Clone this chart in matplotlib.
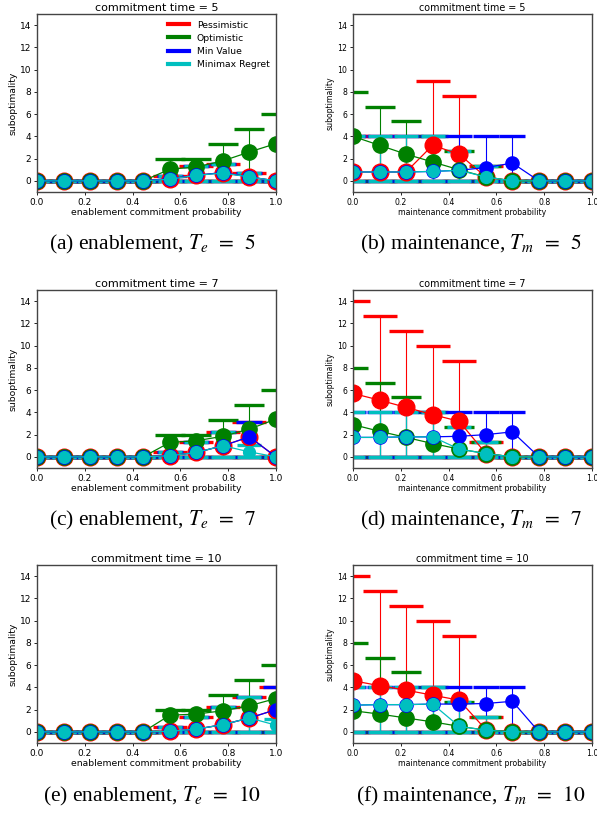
import numpy as np
import matplotlib
matplotlib.use("Agg")
import matplotlib.pyplot as plt
from matplotlib.lines import Line2D

plt.rcParams['mathtext.fontset'] = 'stix'

# commitment probabilities (x axis)
probs = [0.0, 0.111, 0.222, 0.333, 0.444, 0.556, 0.667, 0.778, 0.889, 1.0]

series_names = ["Pessimistic", "Optimistic", "Min Value", "Minimax Regret"]
series_colors = ["r", "g", "b", "c"]

# (a) enablement, T_e = 5  -- means and upper error values (lower error goes to 0)
ena5_pess = [0, 0, 0, 0, 0, 0.2, 0.5, 0.75, 0.35, 0]
ena5_pess_hi = [0, 0, 0, 0, 0, 0.45, 1.35, 1.55, 0.75, 0]
ena5_opt = [0, 0, 0, 0, 0, 1.05, 1.25, 1.8, 2.6, 3.35]
ena5_opt_hi = [0, 0, 0, 0, 0, 2.0, 2.0, 3.3, 4.65, 6.0]
ena5_minv = [0, 0, 0, 0, 0, 0.2, 0.5, 0.75, 0.35, 0]
ena5_minv_hi = [0, 0, 0, 0, 0, 0.45, 1.35, 1.55, 0.75, 0]
ena5_mmr = [0, 0, 0, 0, 0, 0.15, 0.5, 0.7, 0.35, 0]
ena5_mmr_hi = [0, 0, 0, 0, 0, 0.45, 1.35, 1.55, 0.75, 0]

# (b) maintenance, T_m = 5
mnt5_pess = [0.8, 0.8, 0.8, 3.2, 2.4, 0.35, 0, 0, 0, 0]
mnt5_pess_hi = [4.0, 4.0, 4.0, 9.0, 7.65, 1.35, 0, 0, 0, 0]
mnt5_opt = [4.0, 3.2, 2.4, 1.7, 1.0, 0.35, 0, 0, 0, 0]
mnt5_opt_hi = [8.0, 6.65, 5.35, 4.0, 2.65, 1.35, 0, 0, 0, 0]
mnt5_minv = [0.8, 0.8, 0.8, 0.85, 0.95, 1.2, 1.6, 0, 0, 0]
mnt5_minv_hi = [4.0, 4.0, 4.0, 4.0, 4.0, 4.0, 4.0, 0, 0, 0]
mnt5_mmr = [0.8, 0.8, 0.8, 0.85, 0.95, 0.35, 0, 0, 0, 0]
mnt5_mmr_hi = [4.0, 4.0, 4.0, 4.0, 2.65, 1.35, 0, 0, 0, 0]

# (c) enablement, T_e = 7
ena7_pess = [0, 0, 0, 0, 0, 0.1, 0.4, 1.0, 1.8, 0]
ena7_pess_hi = [0, 0, 0, 0, 0, 0.45, 1.35, 2.2, 3.1, 0]
ena7_opt = [0, 0, 0, 0, 0, 1.3, 1.45, 1.85, 2.5, 3.4]
ena7_opt_hi = [0, 0, 0, 0, 0, 2.0, 2.0, 3.3, 4.65, 6.0]
ena7_minv = [0, 0, 0, 0, 0, 0.1, 0.4, 1.0, 1.8, 0]
ena7_minv_hi = [0, 0, 0, 0, 0, 0.45, 1.35, 2.2, 3.1, 0]
ena7_mmr = [0, 0, 0, 0, 0, 0.1, 0.4, 1.0, 0.45, 0]
ena7_mmr_hi = [0, 0, 0, 0, 0, 0.45, 1.35, 2.2, 1.1, 0]

# (d) maintenance, T_m = 7
mnt7_pess = [5.7, 5.1, 4.45, 3.8, 3.2, 0.3, 0, 0, 0, 0]
mnt7_pess_hi = [14.0, 12.65, 11.35, 10.0, 8.65, 1.35, 0, 0, 0, 0]
mnt7_opt = [2.9, 2.3, 1.75, 1.2, 0.7, 0.3, 0, 0, 0, 0]
mnt7_opt_hi = [8.0, 6.65, 5.35, 4.0, 2.65, 1.35, 0, 0, 0, 0]
mnt7_minv = [1.75, 1.75, 1.8, 1.8, 1.85, 2.0, 2.25, 0, 0, 0]
mnt7_minv_hi = [4.0, 4.0, 4.0, 4.0, 4.0, 4.0, 4.0, 0, 0, 0]
mnt7_mmr = [1.75, 1.75, 1.8, 1.8, 0.7, 0.3, 0, 0, 0, 0]
mnt7_mmr_hi = [4.0, 4.0, 4.0, 4.0, 2.65, 1.35, 0, 0, 0, 0]

# (e) enablement, T_e = 10
ena10_pess = [0, 0, 0, 0, 0, 0.05, 0.25, 0.65, 1.25, 2.0]
ena10_pess_hi = [0, 0, 0, 0, 0, 0.45, 1.35, 2.2, 3.1, 4.0]
ena10_opt = [0, 0, 0, 0, 0, 1.5, 1.6, 1.9, 2.35, 3.0]
ena10_opt_hi = [0, 0, 0, 0, 0, 2.0, 2.0, 3.3, 4.65, 6.0]
ena10_minv = [0, 0, 0, 0, 0, 0.05, 0.25, 0.65, 1.25, 2.0]
ena10_minv_hi = [0, 0, 0, 0, 0, 0.45, 1.35, 2.2, 3.1, 4.0]
ena10_mmr = [0, 0, 0, 0, 0, 0.05, 0.25, 0.65, 1.25, 0.6]
ena10_mmr_hi = [0, 0, 0, 0, 0, 0.45, 1.35, 2.2, 3.1, 1.2]

# (f) maintenance, T_m = 10
mnt10_pess = [4.6, 4.15, 3.75, 3.3, 2.85, 0.2, 0, 0, 0, 0]
mnt10_pess_hi = [14.0, 12.65, 11.35, 10.0, 8.65, 1.35, 0, 0, 0, 0]
mnt10_opt = [1.9, 1.6, 1.25, 0.9, 0.5, 0.15, 0, 0, 0, 0]
mnt10_opt_hi = [8.0, 6.65, 5.35, 4.0, 2.65, 1.35, 0, 0, 0, 0]
mnt10_minv = [2.4, 2.45, 2.45, 2.5, 2.5, 2.55, 2.75, 0, 0, 0]
mnt10_minv_hi = [4.0, 4.0, 4.0, 4.0, 4.0, 4.0, 4.0, 0, 0, 0]
mnt10_mmr = [2.4, 2.45, 2.45, 2.5, 0.5, 0.15, 0, 0, 0, 0]
mnt10_mmr_hi = [4.0, 4.0, 4.0, 4.0, 2.65, 1.35, 0, 0, 0, 0]

commit_times = [5, 7, 10]
captions = [
    r"(a) enablement, $T_e\enspace=\enspace5$", r"(b) maintenance, $T_m\enspace=\enspace5$",
    r"(c) enablement, $T_e\enspace=\enspace7$", r"(d) maintenance, $T_m\enspace=\enspace7$",
    r"(e) enablement, $T_e\enspace=\enspace10$", r"(f) maintenance, $T_m\enspace=\enspace10$",
]

panels = [
    [(ena5_pess, ena5_pess_hi), (ena5_opt, ena5_opt_hi), (ena5_minv, ena5_minv_hi), (ena5_mmr, ena5_mmr_hi)],
    [(mnt5_pess, mnt5_pess_hi), (mnt5_opt, mnt5_opt_hi), (mnt5_minv, mnt5_minv_hi), (mnt5_mmr, mnt5_mmr_hi)],
    [(ena7_pess, ena7_pess_hi), (ena7_opt, ena7_opt_hi), (ena7_minv, ena7_minv_hi), (ena7_mmr, ena7_mmr_hi)],
    [(mnt7_pess, mnt7_pess_hi), (mnt7_opt, mnt7_opt_hi), (mnt7_minv, mnt7_minv_hi), (mnt7_mmr, mnt7_mmr_hi)],
    [(ena10_pess, ena10_pess_hi), (ena10_opt, ena10_opt_hi), (ena10_minv, ena10_minv_hi), (ena10_mmr, ena10_mmr_hi)],
    [(mnt10_pess, mnt10_pess_hi), (mnt10_opt, mnt10_opt_hi), (mnt10_minv, mnt10_minv_hi), (mnt10_mmr, mnt10_mmr_hi)],
]

# marker size == capsize per series (points)
marker_sizes = [12, 11, 9.5, 8.5]

W, H = 597, 815
fig = plt.figure(figsize=(W / 100, H / 100), dpi=100)

col_left = [37, 353]
row_top = [14, 290, 565]
ax_w, ax_h = 239, 178
caption_y = [244, 520, 796]
caption_x = [152, 471]


def draw_panel(ax, data, right, t):
    # right-hand column was scaled down in the paper, so smaller text
    tick_fs = 5.6 if right else 6.5
    label_fs = 5.6 if right else 6.7
    title_fs = 6.9 if right else 8
    for (mean, hi), color, ms in zip(data, series_colors, marker_sizes):
        mean = np.array(mean)
        hi = np.array(hi)
        ax.errorbar(probs, mean, yerr=[mean, hi - mean], color=color,
                    marker='o', markersize=ms, capsize=ms, capthick=2.4,
                    elinewidth=0.8, linewidth=0.9)
    ax.set_xlim(0, 1)
    ax.set_ylim(-1, 15)
    ax.set_yticks(range(0, 15, 2))
    ax.set_xticks([0.0, 0.2, 0.4, 0.6, 0.8, 1.0])
    ax.tick_params(labelsize=tick_fs, length=2.5, width=0.6, pad=1.5)
    ax.set_title(f"commitment time = {t}", fontsize=title_fs, pad=2)
    ax.set_ylabel("suboptimality", fontsize=label_fs, labelpad=2)
    kind = "maintenance" if right else "enablement"
    ax.set_xlabel(f"{kind} commitment probability", fontsize=label_fs, labelpad=1)
    for sp in ax.spines.values():
        sp.set_linewidth(1.0)
        sp.set_color('#444444')


for i, data in enumerate(panels):
    r, c = divmod(i, 2)
    left = col_left[c] / W
    bottom = 1 - (row_top[r] + ax_h) / H
    ax = fig.add_axes([left, bottom, ax_w / W, ax_h / H])
    draw_panel(ax, data, c == 1, commit_times[r])
    if i == 0:
        handles = [Line2D([], [], color=col, lw=3) for col in series_colors]
        ax.legend(handles, series_names, loc='upper right', frameon=False,
                  fontsize=6.7, handlelength=2.3, labelspacing=0.45,
                  borderaxespad=0.3)
    fig.text(caption_x[c] / W, 1 - caption_y[r] / H, captions[i],
             ha='center', va='center', fontsize=15.5, family='Liberation Serif')

fig.savefig("out.png", dpi=100)
